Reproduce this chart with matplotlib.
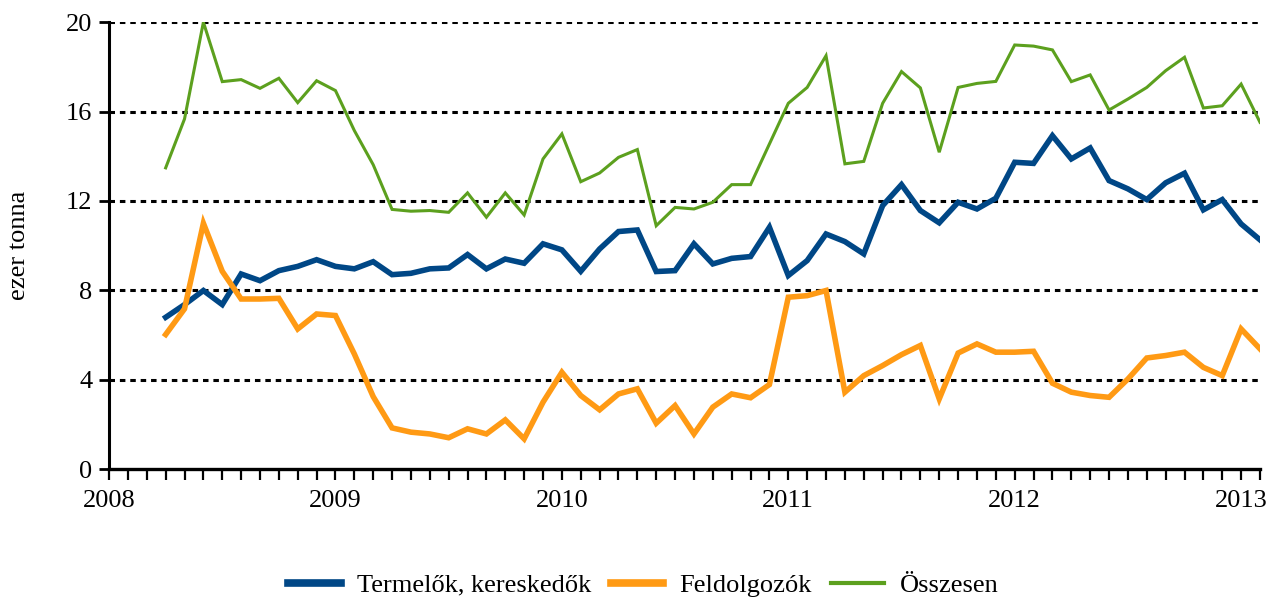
import matplotlib
matplotlib.use("Agg")
import matplotlib.pyplot as plt
import numpy as np

# Monthly data, April 2008 .. February 2013 (month index 3..61 counted from Jan 2008)
start_month = 3
termelok = [6.79, 7.36, 7.99, 7.36, 8.73, 8.43, 8.88, 9.07, 9.37, 9.07, 8.96, 9.28,
            8.70, 8.76, 8.96, 9.00, 9.60, 8.96, 9.40, 9.21, 10.08, 9.81, 8.85, 9.85,
            10.63, 10.70, 8.84, 8.88, 10.08, 9.18, 9.43, 9.51, 10.82, 8.66, 9.33, 10.52,
            10.18, 9.63, 11.79, 12.73, 11.57, 11.02, 11.94, 11.64, 12.12, 13.73, 13.68, 14.92,
            13.88, 14.37, 12.91, 12.54, 12.06, 12.81, 13.24, 11.60, 12.06, 10.97, 10.26]
feldolgozok = [6.02, 7.17, 11.00, 8.85, 7.61, 7.61, 7.64, 6.27, 6.94, 6.87, 5.15, 3.24,
               1.84, 1.65, 1.57, 1.40, 1.80, 1.57, 2.20, 1.35, 2.99, 4.33, 3.29, 2.65,
               3.36, 3.59, 2.05, 2.84, 1.57, 2.77, 3.36, 3.19, 3.78, 7.69, 7.76, 7.99,
               3.44, 4.18, 4.63, 5.12, 5.53, 3.14, 5.19, 5.60, 5.23, 5.23, 5.27, 3.84,
               3.44, 3.29, 3.21, 4.03, 4.97, 5.08, 5.23, 4.55, 4.18, 6.27, 5.38]
osszesen = [13.48, 15.67, 20.00, 17.34, 17.43, 17.04, 17.49, 16.40, 17.38, 16.94, 15.15, 13.62,
            11.62, 11.54, 11.57, 11.49, 12.36, 11.27, 12.36, 11.37, 13.88, 15.00, 12.86, 13.25,
            13.95, 14.30, 10.89, 11.71, 11.64, 11.94, 12.73, 12.73, 14.55, 16.37, 17.08, 18.50,
            13.66, 13.77, 16.37, 17.79, 17.06, 14.18, 17.08, 17.26, 17.35, 18.98, 18.93, 18.76,
            17.34, 17.64, 16.07, 16.56, 17.08, 17.83, 18.43, 16.16, 16.26, 17.23, 15.52]
series_names = ["Termelők, kereskedők", "Feldolgozók", "Összesen"]
year_labels = ["2008", "2009", "2010", "2011", "2012", "2013"]
y_ticks = [0, 4, 8, 12, 16, 20]
y_label = "ezer tonna"

plt.rcParams['font.family'] = ['Liberation Serif', 'DejaVu Serif']
FS = 19

fig = plt.figure(figsize=(12.74, 6.0), dpi=100)
ax = fig.add_axes([0.0856, 0.2183, 0.9034, 0.7447])

x = np.arange(start_month, start_month + len(termelok))
ax.plot(x, termelok, color="#004786", lw=4.0, solid_joinstyle="miter", label=series_names[0], zorder=3)
ax.plot(x, feldolgozok, color="#FF9A14", lw=4.0, solid_joinstyle="miter", label=series_names[1], zorder=3)
ax.plot(x, osszesen, color="#5CA01E", lw=2.2, solid_joinstyle="miter", label=series_names[2], zorder=3)

n_ticks = 62
ax.set_xlim(0, n_ticks - 1)
ax.set_ylim(0, 20)
ax.set_xticks(np.arange(n_ticks))
ax.set_xticklabels([year_labels[i // 12] if i % 12 == 0 else "" for i in range(n_ticks)])
ax.set_yticks(y_ticks)
ax.set_yticklabels([str(v) for v in y_ticks])

ax.tick_params(axis="x", direction="out", length=8, width=1.6, labelsize=FS, pad=7, colors="black")
ax.tick_params(axis="y", direction="out", length=7, width=2, labelsize=FS, pad=5, colors="black")

for v in y_ticks[1:]:
    ax.axhline(v, color="black", lw=2.2, linestyle=(0, (1.8, 1.6)), zorder=1)

for s in ["top", "right"]:
    ax.spines[s].set_visible(False)
ax.spines["left"].set_linewidth(2.2)
ax.spines["bottom"].set_linewidth(2.4)

ax.set_ylabel(y_label, fontsize=FS)
ax.yaxis.set_label_coords(-0.069, 0.5)

leg = fig.legend(loc="center", bbox_to_anchor=(0.505, 0.025), ncol=3, frameon=False,
                 fontsize=FS, handlelength=2.0, columnspacing=0.75, handletextpad=0.6)
for h in leg.get_lines():
    h.set_linewidth(5.5 if h.get_color() != "#5CA01E" else 3.0)

fig.savefig("out.png", dpi=100)
